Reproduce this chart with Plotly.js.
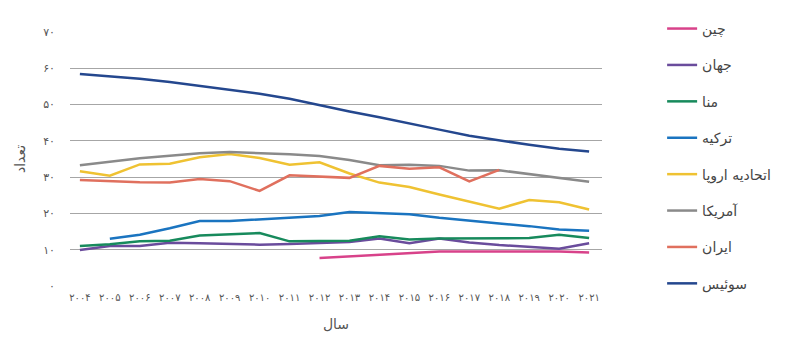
<!DOCTYPE html>
<html>
<head>
<meta charset="utf-8">
<script src="https://cdn.plot.ly/plotly-3.0.1.min.js"></script>
<style>html,body{margin:0;padding:0;background:#fff;}#chart{width:800px;height:338px;}</style>
</head>
<body>
<div id="chart"></div>
<script>
const years = [2004,2005,2006,2007,2008,2009,2010,2011,2012,2013,2014,2015,2016,2017,2018,2019,2020,2021];
const yearLabels = ['۲۰۰۴','۲۰۰۵','۲۰۰۶','۲۰۰۷','۲۰۰۸','۲۰۰۹','۲۰۱۰','۲۰۱۱','۲۰۱۲','۲۰۱۳','۲۰۱۴','۲۰۱۵','۲۰۱۶','۲۰۱۷','۲۰۱۸','۲۰۱۹','۲۰۲۰','۲۰۲۱'];
const yTickVals = [0,10,20,30,40,50,60,70];
const yTickText = ['۰','۱۰','۲۰','۳۰','۴۰','۵۰','۶۰','۷۰'];

const seriesNames = ['چین','جهان','منا','ترکیه','اتحادیه اروپا','آمریکا','ایران','سوئیس'];
const china   = [null,null,null,null,null,null,null,null,7.7,8.2,8.6,9.0,9.5,9.5,9.5,9.5,9.5,9.2];
const world   = [9.9,11.0,11.0,11.9,11.8,11.6,11.4,11.6,11.8,12.1,13.1,11.8,13.1,12.0,11.3,10.8,10.3,11.8];
const mena    = [11.0,11.5,12.3,12.5,13.9,14.2,14.6,12.3,12.4,12.5,13.7,12.8,13.1,13.2,13.2,13.2,14.1,13.2];
const turkey  = [null,13.0,14.1,15.9,17.9,17.9,18.4,18.9,19.3,20.4,20.2,19.8,18.8,17.9,17.2,16.5,15.6,15.2];
const eu      = [31.6,30.4,33.5,33.7,35.5,36.4,35.3,33.4,34.1,31.0,28.5,27.3,25.2,23.2,21.3,23.7,23.1,21.1];
const usa     = [33.3,34.3,35.2,35.9,36.6,36.9,36.7,36.3,35.8,34.7,33.3,33.4,33.1,31.8,31.9,30.9,29.8,28.7];
const iran    = [29.2,28.8,28.6,28.5,29.5,28.9,26.2,30.5,30.2,29.8,33.1,32.3,32.7,28.8,32.0,null,null,null];
const swiss   = [58.4,57.8,57.1,56.2,55.2,54.2,53.0,51.6,49.8,48.1,46.5,44.9,43.1,41.4,40.1,38.9,37.8,37.1];

const colors = ['#d8428a','#6a4c9c','#178a5c','#1a74c0','#efc232','#8a8a8a','#e0705e','#24478e'];
const data = [china, world, mena, turkey, eu, usa, iran, swiss];

const fa = 'DejaVu Sans, sans-serif';
const traces = data.map((ys, i) => ({
  x: years, y: ys, name: seriesNames[i], type: 'scatter', mode: 'lines',
  line: {color: colors[i], width: 2.5}, legendgroup: 'g' + i,
  connectgaps: false, hoverinfo: 'skip'
}));

const layout = {
  width: 800, height: 338,
  margin: {l: 70, r: 198, t: 32, b: 52},
  paper_bgcolor: '#fff', plot_bgcolor: '#fff',
  font: {family: fa, color: '#444'},
  showlegend: true,
  legend: {
    x: 1.113, xanchor: 'left', y: 1.075, yanchor: 'top',
    traceorder: 'grouped', tracegroupgap: 15.2,
    maxheight: 338,
    font: {family: fa, size: 14, color: '#444'},
    bgcolor: 'rgba(0,0,0,0)'
  },
  xaxis: {
    range: [2003.67, 2021.43],
    tickvals: years, ticktext: yearLabels,
    tickangle: 0,
    tickfont: {family: fa, size: 10, color: '#555'},
    showgrid: false, zeroline: false, showline: false,
    ticks: '', ticklabelstandoff: 4,
    title: {text: 'سال', font: {family: fa, size: 14, color: '#555'}, standoff: 17}
  },
  yaxis: {
    range: [0, 70],
    tickvals: yTickVals, ticktext: yTickText,
    tickfont: {family: fa, size: 11, color: '#555'},
    showgrid: true, gridcolor: '#a6a6a6', gridwidth: 1,
    zeroline: false, showline: false, ticks: '',
    ticklabelstandoff: 14,
    title: {text: 'تعداد', font: {family: fa, size: 14, color: '#555'}, standoff: 14}
  }
};

Plotly.newPlot('chart', traces, layout, {displayModeBar: false, staticPlot: true});
</script>
</body>
</html>
